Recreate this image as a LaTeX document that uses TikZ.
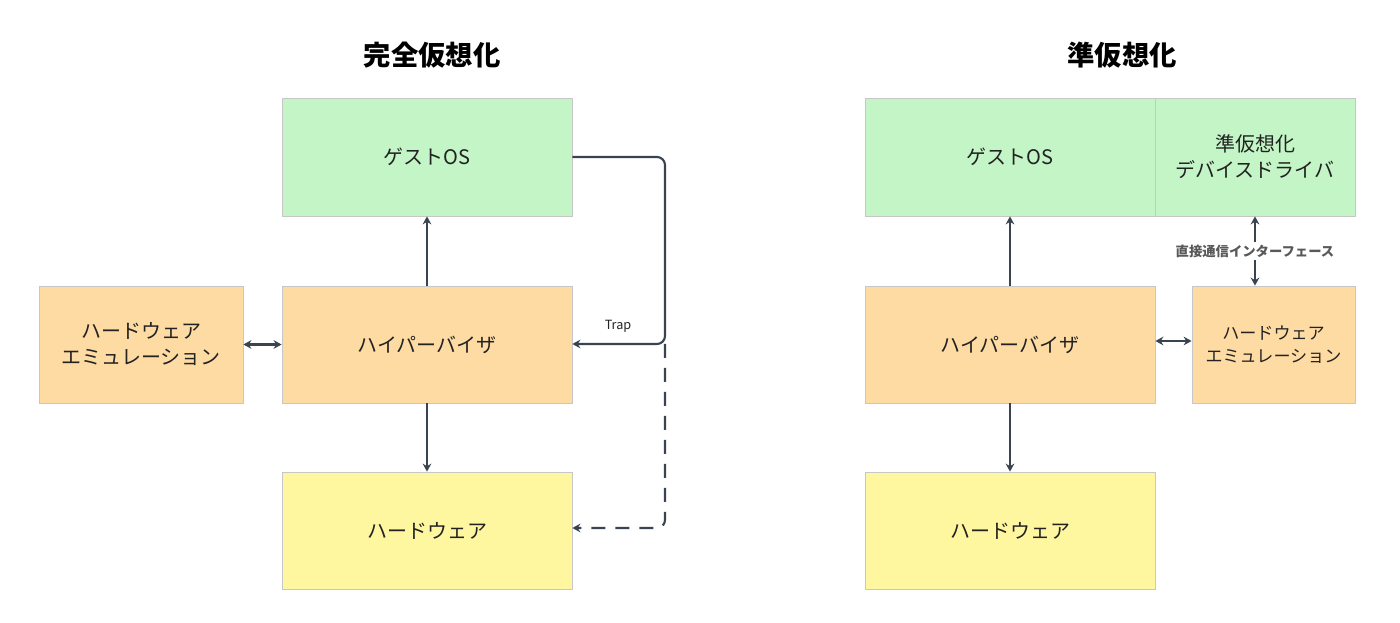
\documentclass[tikz,border=0pt]{standalone}
\usepackage{fontspec}
\setmainfont{Noto Sans CJK JP}
\usetikzlibrary{arrows.meta}

\definecolor{guestgreen}{HTML}{C3F5C6}
\definecolor{hyperorange}{HTML}{FDDBA3}
\definecolor{hwyellow}{HTML}{FFF6A0}
\definecolor{linkgray}{HTML}{3A4350}
\definecolor{textdark}{HTML}{222222}

\begin{document}
\begin{tikzpicture}[x=0.75pt, y=-0.75pt]

\tikzstyle{box} = [rectangle, draw=black!22, line width=0.6pt, text=textdark, font=\fontsize{15}{19.5}\selectfont, align=center, inner sep=0pt]
\tikzstyle{guest} = [box, fill=guestgreen]
\tikzstyle{hyper} = [box, fill=hyperorange]
\tikzstyle{hw} = [box, fill=hwyellow]
\tikzstyle{title} = [font=\fontsize{20.5}{24}\selectfont\bfseries, text=black]
\tikzstyle{link} = [draw=linkgray, line width=1.6pt, >={Stealth[length=6pt, width=6.5pt]}]
\tikzstyle{linklabel} = [font=\fontsize{10}{12}\selectfont\bfseries, text=black!65, fill=white, inner sep=2pt]

\useasboundingbox (0,0) rectangle (1400,623);

% full virtualization
\node[title] (fulltitle) at (432, 55) {完全仮想化};
\node[guest, minimum width=217.5pt, minimum height=88.5pt] (guestL) at (427, 157) {ゲストOS};
\node[hyper, minimum width=217.5pt, minimum height=87.75pt] (hyperL) at (427, 344.5) {ハイパーバイザ};
\node[hyper, minimum width=153pt, minimum height=87.75pt] (emuL) at (141, 344.5) {ハードウェア\\エミュレーション};
\node[hw, minimum width=217.5pt, minimum height=87.75pt] (hwL) at (427, 530.5) {ハードウェア};

\coordinate (trapturn) at (665, 157);
\coordinate (trapjoint) at (665, 344);
\coordinate (trapdown) at (665, 528);
\node[font=\fontsize{9.5}{11}\selectfont, text=textdark] (traplabel) at (618, 326) {Trap};

\draw[link, ->] (hyperL.north) -- (guestL.south);
\draw[link, ->] (hyperL.south) -- (hwL.north);
\draw[link, <->] (emuL.east) -- (hyperL.west);
\draw[link, ->, rounded corners=6pt] (guestL.east) -- (trapturn) -- (trapjoint) -- (hyperL.east |- trapjoint);
\draw[link, ->, rounded corners=6pt, dash pattern=on 10.5pt off 7.5pt] (trapjoint) -- (trapdown) -- (hwL.east |- trapdown);

% paravirtualization
\node[title] (paratitle) at (1122, 55) {準仮想化};
\node[guest, minimum width=217.5pt, minimum height=88.5pt] (guestR) at (1010, 157) {ゲストOS};
\node[guest, minimum width=150pt, minimum height=88.5pt] (driver) at (1255, 157) {準仮想化\\デバイスドライバ};
\node[hyper, minimum width=217.5pt, minimum height=87.75pt] (hyperR) at (1010, 344.5) {ハイパーバイザ};
\node[hyper, minimum width=122.25pt, minimum height=87.75pt, font=\fontsize{12.8}{17}\selectfont] (emuR) at (1273.5, 344.5) {ハードウェア\\エミュレーション};
\node[hw, minimum width=217.5pt, minimum height=87.75pt] (hwR) at (1010, 530.5) {ハードウェア};

\draw[link, ->] (hyperR.north) -- (guestR.south);
\draw[link, ->] (hyperR.south) -- (hwR.north);
\draw[link, <->] (hyperR.east |- 0,341) -- (emuR.west |- 0,341);
\draw[link, <->] (driver.south) -- (driver.south |- emuR.north);
\node[linklabel] (directlabel) at (1255, 251) {直接通信インターフェース};

\end{tikzpicture}
\end{document}
